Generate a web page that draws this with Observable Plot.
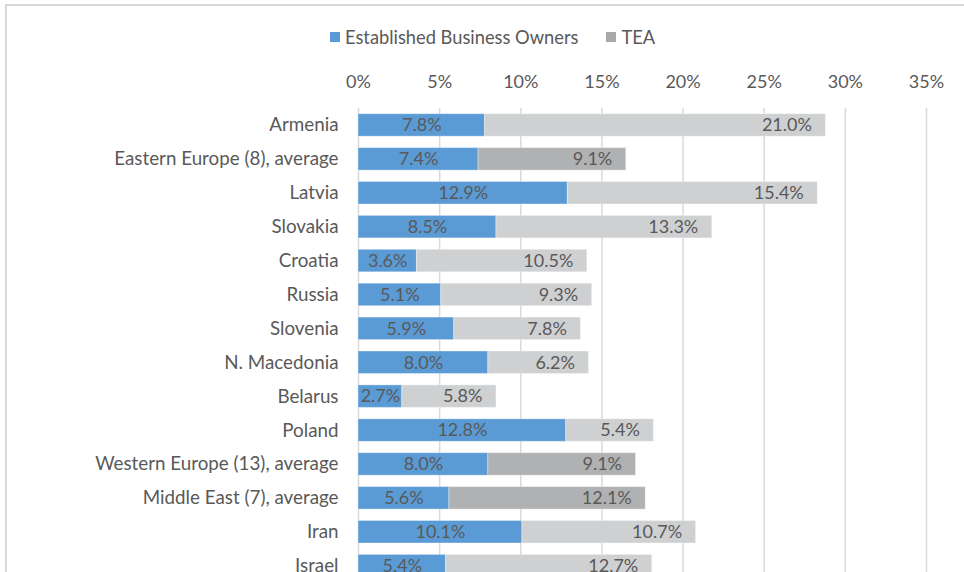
<!DOCTYPE html>
<html>
<head>
<meta charset="utf-8">
<script src="https://cdn.jsdelivr.net/npm/d3@7"></script>
<script src="https://cdn.jsdelivr.net/npm/@observablehq/plot@0.6"></script>
<style>
  html, body { margin: 0; padding: 0; overflow: hidden; background: #fff; width: 964px; height: 572px; }
  body { position: relative; font-family: Lato, "Open Sans", sans-serif; color: #595959; }
  #frame { position: absolute; left: 5px; top: 4px; width: 1000px; height: 700px; border-left: 2px solid #D9D9D9; border-top: 2px solid #D9D9D9; box-sizing: border-box; }
  #legend { position: absolute; left: 330px; top: 26px; height: 22px; display: flex; align-items: center; font-size: 18.3px; white-space: nowrap; }
  #legend .sw { width: 10px; height: 10px; display: inline-block; margin-right: 5px; }
  #legend .item { display: flex; align-items: center; margin-right: 28px; }
  #chart { position: absolute; left: 0; top: 56px; line-height: 0; }
</style>
</head>
<body>
<div id="frame"></div>
<div id="legend"></div>
<div id="chart"></div>
<script>
const countries = ["Armenia", "Eastern Europe (8), average", "Latvia", "Slovakia", "Croatia", "Russia", "Slovenia", "N. Macedonia", "Belarus", "Poland", "Western Europe (13), average", "Middle East (7), average", "Iran", "Israel"];
const ebo = [7.8, 7.4, 12.9, 8.5, 3.6, 5.1, 5.9, 8.0, 2.7, 12.8, 8.0, 5.6, 10.1, 5.4];
const tea = [21.0, 9.1, 15.4, 13.3, 10.5, 9.3, 7.8, 6.2, 5.8, 5.4, 9.1, 12.1, 10.7, 12.7];
const xTicks = [0, 5, 10, 15, 20, 25, 30, 35];
const seriesNames = ["Established Business Owners", "TEA"];

const colBlue = "#5B9BD5";
const colTea = "#CFD0D1";
const colTeaAvg = "#B0B1B2";
const colLegendTea = "#A9A9A9";

const rows = countries.map((c, i) => ({
  country: c, ebo: ebo[i], tea: tea[i], total: ebo[i] + tea[i], avg: c.includes("average")
}));

// legend
const legend = document.getElementById("legend");
[[seriesNames[0], colBlue], [seriesNames[1], colLegendTea]].forEach(([name, col]) => {
  const it = document.createElement("span");
  it.className = "item";
  it.innerHTML = `<span class="sw" style="background:${col}"></span><span>${name}</span>`;
  legend.appendChild(it);
});

const step = 33.9;
const marginTop = 52;
const chart = Plot.plot({
  width: 964,
  height: marginTop + step * countries.length,
  marginLeft: 358,
  marginRight: 38,
  marginTop: marginTop,
  marginBottom: 0,
  style: { fontFamily: "Lato, 'Open Sans', sans-serif", fontSize: "18px", color: "#595959", background: "transparent" },
  x: { domain: [0, 35], axis: null },
  y: { domain: countries, axis: null, paddingInner: 0.336, paddingOuter: 0.168, round: false },
  marks: [
    Plot.gridX(xTicks, { stroke: "#D9D9D9", strokeOpacity: 1, strokeWidth: 1.5 }),
    Plot.axisX(xTicks, { anchor: "top", tickSize: 0, tickPadding: 20, tickFormat: d => d + "%", fontSize: 18, fill: "#595959", label: null }),
    Plot.axisY({ anchor: "left", tickSize: 0, tickPadding: 20, fontSize: 18.8, fill: "#595959", label: null }),
    Plot.barX(rows, { y: "country", x1: 0, x2: "ebo", fill: colBlue, stroke: "#ffffff", strokeOpacity: 0.35, strokeWidth: 1 }),
    Plot.barX(rows, { y: "country", x1: "ebo", x2: "total", fill: d => d.avg ? colTeaAvg : colTea, stroke: "#ffffff", strokeOpacity: 0.35, strokeWidth: 1 }),
    Plot.text(rows, { y: "country", x: d => d.ebo / 2, text: d => d.ebo.toFixed(1) + "%", fill: "#595959", fontSize: 18 }),
    Plot.text(rows, { y: "country", x: "total", text: d => d.tea.toFixed(1) + "%", textAnchor: "end", dx: -14, fill: "#595959", fontSize: 18 })
  ]
});
document.getElementById("chart").appendChild(chart);
</script>
</body>
</html>
